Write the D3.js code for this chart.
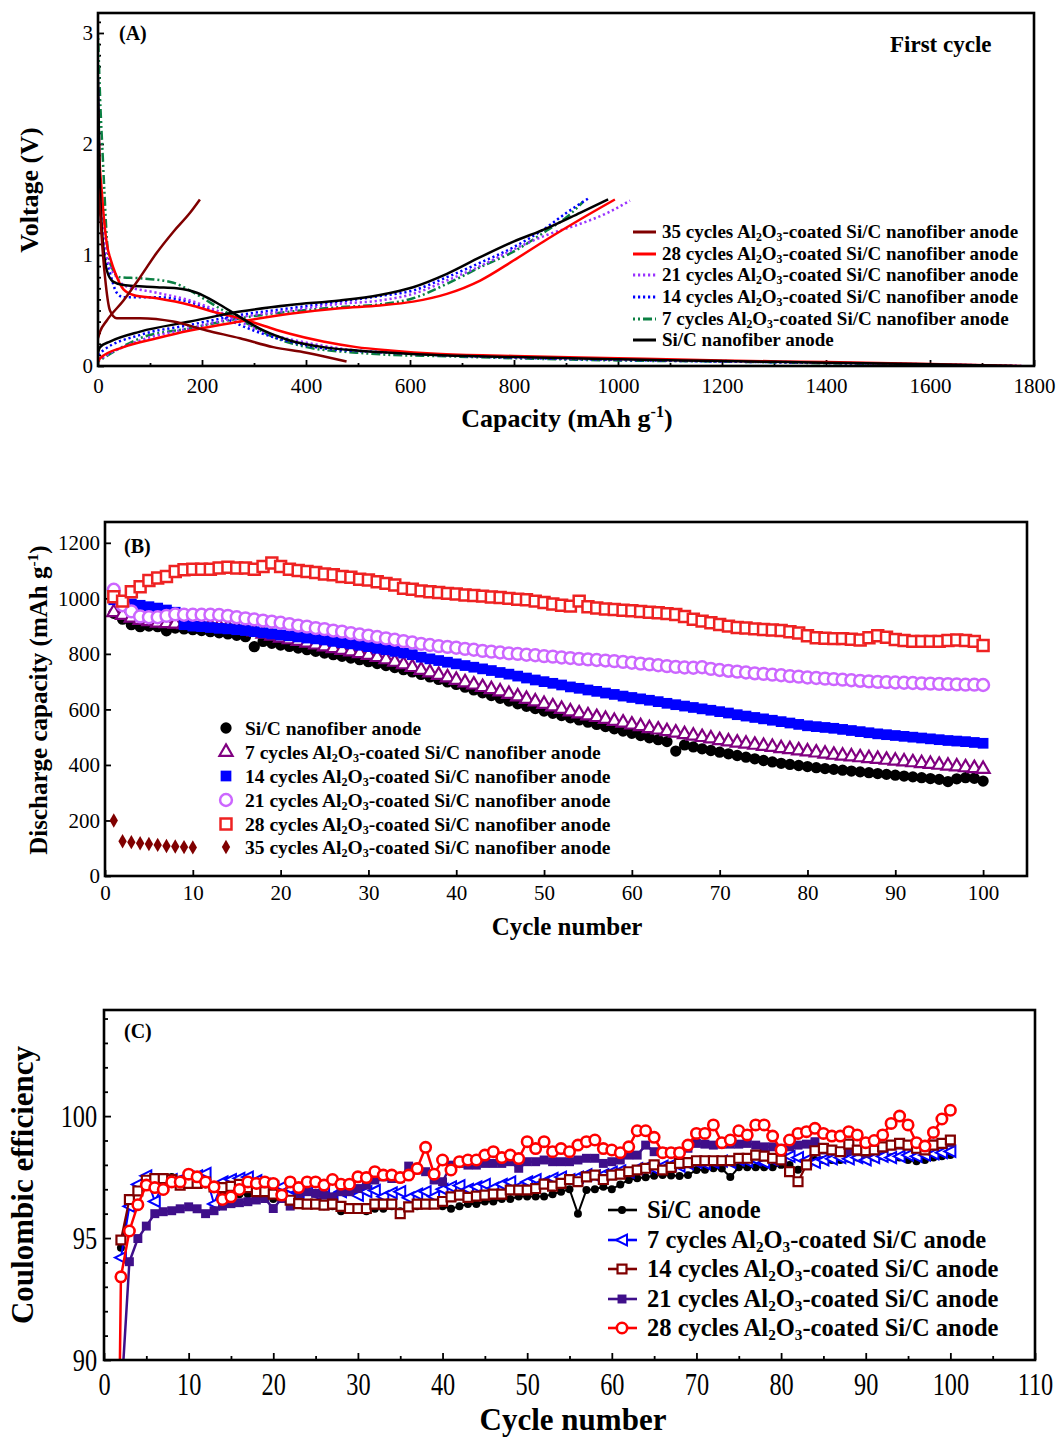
<!DOCTYPE html>
<html><head><meta charset="utf-8">
<script src="https://cdn.jsdelivr.net/npm/d3@7/dist/d3.min.js"></script>
<style>
body{margin:0;background:#fff;}
svg{display:block;font-family:"Liberation Serif","Times New Roman",serif;}
</style></head><body>
<svg id="c" width="1063" height="1441"></svg>
<script>
// ---------------- DATA ----------------
// Panel A: first-cycle voltage profiles [capacity mAh/g, voltage V]
const labelsA = ["35 cycles","28 cycles","21 cycles","14 cycles","7 cycles","Si/C"];
const dis35 = [[0,1.6],[4,1.4],[8,1.1],[13.5,0.80],[23,0.50],[36,0.43],[81,0.43],[145,0.40],[209,0.32],[273,0.25],[337,0.17],[401,0.12],[478,0.04]];
const chg35 = [[0,0.25],[4,0.31],[17,0.41],[49,0.59],[81,0.80],[113,1.02],[145,1.21],[177,1.38],[196,1.50]];
const dis28 = [[0,2.3],[3,1.85],[7,1.59],[12,1.3],[17,1.1],[25,0.95],[33,0.84],[49,0.69],[68,0.64],[113,0.61],[177,0.55],[228,0.48],[273,0.43],[320,0.36],[369,0.29],[433,0.22],[497,0.17],[562,0.14],[650,0.11],[800,0.09],[1000,0.07],[1200,0.05],[1400,0.035],[1600,0.018],[1775,0.0]];
const chg28 = [[0,0.04],[4,0.07],[49,0.17],[113,0.25],[177,0.32],[273,0.40],[369,0.47],[465,0.52],[542,0.545],[606,0.58],[671,0.65],[735,0.77],[799,0.95],[863,1.14],[927,1.32],[994,1.50]];
const dis21 = [[0,2.6],[4,1.6],[10,1.2],[17,0.98],[36,0.80],[49,0.73],[113,0.66],[177,0.59],[228,0.50],[273,0.40],[337,0.28],[401,0.21],[497,0.14],[562,0.12],[650,0.10],[800,0.08],[1000,0.06],[1200,0.045],[1400,0.03],[1600,0.015],[1780,0.0]];
const chg21 = [[0,0.05],[10,0.08],[81,0.23],[177,0.34],[273,0.44],[369,0.50],[465,0.56],[542,0.59],[606,0.65],[671,0.77],[735,0.90],[799,1.05],[863,1.18],[927,1.28],[980,1.38],[1023,1.49]];
const dis14 = [[0,2.5],[4,1.5],[10,1.1],[23,0.84],[36,0.66],[49,0.62],[113,0.62],[164,0.59],[209,0.52],[254,0.41],[305,0.31],[369,0.22],[433,0.16],[562,0.12],[650,0.10],[800,0.075],[1000,0.055],[1200,0.04],[1400,0.028],[1600,0.013],[1770,0.0]];
const chg14 = [[0,0.10],[10,0.14],[81,0.28],[177,0.37],[273,0.46],[369,0.52],[465,0.58],[542,0.63],[606,0.68],[671,0.80],[735,0.93],[799,1.07],[863,1.25],[901,1.38],[943,1.51]];
const dis7 = [[0,3.0],[5,2.3],[8,2.0],[12,1.6],[17,1.15],[23,0.93],[42,0.80],[81,0.79],[145,0.75],[177,0.68],[209,0.59],[241,0.50],[292,0.37],[343,0.25],[401,0.17],[497,0.12],[562,0.10],[650,0.09],[800,0.07],[1000,0.05],[1200,0.04],[1400,0.025],[1600,0.012],[1750,0.0]];
const chg7 = [[0,0.04],[10,0.07],[81,0.25],[177,0.34],[273,0.43],[369,0.49],[465,0.53],[542,0.555],[606,0.61],[671,0.74],[735,0.89],[799,1.03],[863,1.22],[901,1.34],[933,1.48]];
const disSiC = [[0,2.6],[3,1.75],[6,1.35],[10,1.08],[17,0.86],[29,0.76],[49,0.73],[113,0.71],[151,0.70],[190,0.66],[228,0.57],[273,0.44],[318,0.32],[369,0.23],[433,0.17],[497,0.14],[562,0.12],[650,0.10],[800,0.08],[1000,0.06],[1200,0.045],[1400,0.03],[1600,0.015],[1760,0.0]];
const chgSiC = [[0,0.12],[4,0.17],[23,0.22],[81,0.31],[177,0.40],[273,0.49],[369,0.55],[465,0.59],[542,0.64],[606,0.71],[671,0.83],[735,0.98],[799,1.12],[863,1.24],[927,1.38],[981,1.50]];
const capTicksA = [0,200,400,600,800,1000,1200,1400,1600,1800];
const voltTicksA = [0,1,2,3];

// Panel B: discharge capacity vs cycle (cycles 1..100)
const capB_SiC = [946,925,905,898,900,898,883,893,890,887, 884,880,876,872,867,862,826,845,838,832, 827,821,815,809,803,797,791,785,779,772, 765,758,751,743,735,726,717,708,699,690, 680,670,660,650,640,630,620,611,603,594, 586,578,570,562,554,546,538,530,522,514, 506,498,491,484,450,472,465,458,452,446, 440,434,428,422,416,411,406,402,398,394, 390,387,384,381,378,375,372,369,366,363, 360,357,354,351,348,340,350,354,352,342];
const capB_7 = [950,940,930,922,917,912,910,908,906,905, 904,902,900,897,893,888,880,872,865,858, 852,846,840,833,826,820,814,808,802,796, 788,780,771,762,752,742,733,724,715,706, 697,689,680,672,664,655,646,637,628,619, 610,601,592,585,578,572,565,558,552,545, 539,532,527,521,516,510,505,500,495,489, 484,480,476,472,468,464,460,456,452,448, 444,440,436,433,430,427,424,421,418,415, 412,409,406,403,400,397,394,391,388,385];
const capB_14 = [995,985,980,975,970,965,958,950,905,900, 898,895,892,890,887,884,880,876,872,868, 865,861,857,854,850,845,840,836,831,826, 820,815,809,803,797,788,782,776,770,764, 758,752,746,740,733,727,720,713,706,700, 694,688,681,676,670,665,659,654,648,643, 638,633,628,622,617,612,607,602,597,592, 587,581,576,571,566,561,556,551,546,541, 538,535,532,528,524,520,516,512,509,506, 503,500,497,494,491,488,486,484,481,478];
const capB_21 = [1031,975,953,935,932,932,937,942,941,941, 941,941,940,937,932,928,924,920,916,912, 907,902,898,893,889,884,880,875,870,866, 861,856,851,846,841,836,832,828,825,822, 818,815,811,808,805,802,800,797,795,792, 790,787,785,782,780,778,776,774,771,768, 765,762,759,756,753,751,750,752,746,742, 739,736,733,730,728,725,723,720,718,715, 713,711,709,707,705,703,701,699,698,697, 696,695,694,693,692,691,690,689,689,688];
const capB_28 = [1006,990,1024,1042,1064,1073,1079,1097,1103,1105, 1105,1105,1109,1112,1109,1109,1105,1115,1127,1115, 1105,1100,1097,1093,1088,1085,1079,1076,1069,1066, 1060,1054,1048,1036,1033,1027,1024,1021,1018,1016, 1012,1010,1008,1005,1003,1000,997,995,990,985, 980,975,972,990,970,965,962,960,957,955, 953,950,948,945,942,935,925,918,912,906, 900,895,893,890,888,886,884,880,875,865, 858,856,855,855,853,850,858,865,860,852, 848,845,845,845,845,848,850,848,845,830];
const capB_35 = [200,125,122,118,115,112,108,106,104,103];
const cycleTicksB = [0,10,20,30,40,50,60,70,80,90,100];
const capTicksB = [0,200,400,600,800,1000,1200];

// Panel C: coulombic efficiency (%) vs cycle (cycles 1..100, null = no point)
const ceC_SiC = [null,94.6,96.4,97.0,97.3,97.4,97.5,97.5,97.4,97.3, 97.3,97.2,97.0,96.9,96.9,96.8,96.8,96.7,96.7,96.6, 96.6,96.5,96.5,96.4,96.4,96.3,96.3,96.1,96.2,96.2, 96.1,96.2,96.2,96.3,96.1,96.3,96.3,96.4,96.4,96.3, 96.2,96.3,96.4,96.4,96.5,96.5,96.6,96.6,96.7,96.7, 96.7,96.7,96.8,96.9,97.0,96.0,96.97,97.0,97.1,97.0, 97.2,97.38,97.45,97.49,97.55,97.58,97.56,97.54,97.58,97.79, 97.8,97.86,97.85,97.5,97.9,97.9,97.9,97.9,97.9,98.0, 98.0,97.8,98.1,98.2,98.2,98.2,98.2,98.25,98.3,98.3, 98.3,98.35,98.31,98.3,98.2,98.15,98.2,98.3,98.35,98.4];
const ceC_7 = [null,94.2,96.3,97.2,97.55,96.5,97.2,97.4,97.4,97.5, 97.55,97.65,96.4,97.3,97.4,97.45,97.5,97.35,97.2,97.1, 97.1,97.0,96.9,97.0,96.8,96.95,96.7,96.9,96.95,96.75, 96.9,96.95,96.7,96.85,96.9,96.65,96.8,96.9,96.7,97.0, 97.1,97.15,97.0,97.1,97.2,97.05,97.2,97.3,97.1,97.3, 97.4,97.3,97.45,97.5,97.4,97.5,97.6,97.55,97.6,97.7, 97.75,97.7,97.85,97.9,97.85,97.95,98.0,97.95,98.05,98.1, 98.05,98.1,98.15,98.1,98.2,98.15,98.2,98.1,98.2,98.3, 98.35,98.3,98.2,98.1,98.2,98.25,98.3,98.25,98.3,98.2, 98.3,98.35,98.3,98.35,98.4,98.35,98.4,98.45,98.5,98.55];
const ceC_14 = [null,94.92,96.58,96.93,97.37,97.44,97.44,97.4,97.17,97.24, 97.24,97.3,97.1,97.07,97.12,97.2,97.07,96.9,96.9,96.8, 96.76,96.55,96.41,96.39,96.39,96.35,96.39,96.3,96.21,96.21, 96.21,96.39,96.39,96.39,96.0,96.28,96.39,96.39,96.39,96.5, 96.69,96.76,96.67,96.72,96.76,96.80,96.80,96.97,96.97,96.97, 97.03,97.21,97.13,97.24,97.40,97.31,97.51,97.58,97.40,97.58, 97.62,97.72,97.79,97.86,98.00,97.79,97.90,98.06,98.09,98.17, 98.17,98.17,98.17,98.17,98.27,98.27,98.40,98.36,98.27,98.20, 97.72,97.31,98.00,98.58,98.68,98.61,98.54,98.85,98.61,98.58, 98.61,98.74,98.81,98.88,98.81,98.68,98.61,98.81,98.88,99.02];
const ceC_21 = [60,88.3,94.03,94.98,95.49,96.0,96.08,96.12,96.2,96.28, 96.2,96.0,96.12,96.31,96.41,96.45,96.49,96.56,96.62,96.21, 96.62,96.31,96.69,96.9,96.83,96.76,96.69,96.9,96.9,97.03, 97.17,97.38,97.51,97.44,97.44,97.95,97.79,97.72,97.38,97.31, 97.99,98.06,97.99,97.99,98.06,98.06,98.06,98.13,97.86,98.13, 98.13,98.20,98.13,98.13,98.13,98.20,98.27,98.27,98.06,98.13, 98.20,98.40,98.40,98.81,98.54,98.54,98.47,98.54,98.68,98.88, 98.85,98.81,98.85,98.85,98.85,98.88,98.81,98.74,98.74,98.68, 98.74,98.81,98.85,98.95,98.61,98.58,98.54,98.58,98.54,98.47, 98.61,98.68,98.81,98.81,98.81,98.85,98.74,98.85,98.88,98.91];
const ceC_28 = [65,93.41,95.29,96.37,97.17,97.07,96.99,97.30,97.30,97.62, 97.51,97.30,97.10,96.58,96.69,96.99,97.30,97.24,97.30,97.24, 96.76,97.30,97.07,97.30,97.30,97.17,97.40,97.21,97.21,97.51, 97.48,97.72,97.58,97.58,97.48,97.58,97.85,98.72,97.62,98.20, 97.79,98.13,98.20,98.20,98.40,98.54,98.30,98.40,98.26,98.95, 98.67,98.95,98.54,98.67,98.54,98.81,98.95,99.02,98.67,98.61, 98.50,98.74,99.40,99.40,99.13,98.50,98.50,98.50,98.81,99.29, 99.29,99.64,98.91,99.02,99.40,99.23,99.64,99.64,99.18,98.61, 99.02,99.29,99.36,99.50,99.29,99.18,99.18,99.36,99.23,98.91, 99.00,99.23,99.70,100.0,99.64,98.91,98.77,99.33,99.88,100.24];
const cycleTicksC = [0,10,20,30,40,50,60,70,80,90,100,110];
const ceTicksC = [90,95,100];

// ---------------- DRAWING ----------------
const svg = d3.select("#c");
const FS = "Liberation Serif";
const plain = d => String(d);

function rich(g, x, y, parts, fs, bold) {
  const t = g.append("text").attr("x", x).attr("y", y).attr("font-size", fs)
    .attr("font-weight", bold ? "bold" : "normal").attr("fill", "#000");
  let shift = 0;
  parts.forEach(([s, k]) => {
    const target = k === "sub" ? fs * 0.17 : k === "sup" ? -fs * 0.38 : 0;
    const ts = t.append("tspan").attr("dy", target - shift).text(s);
    if (k !== "n") ts.attr("font-size", fs * 0.62);
    shift = target;
  });
  return t;
}
const coated = (pre, post) => [[pre + " cycles Al", "n"], ["2", "sub"], ["O", "n"], ["3", "sub"], ["-coated " + post, "n"]];

function styleAxis(g, fs) {
  g.attr("font-family", FS).attr("font-size", fs);
  g.select(".domain").remove();
  g.selectAll(".tick line").attr("stroke", "#000").attr("stroke-width", 1.8);
  g.selectAll("text").attr("fill", "#000");
}
function frame(x0, y0, x1, y1) {
  svg.append("rect").attr("x", x0).attr("y", y0).attr("width", x1 - x0).attr("height", y1 - y0)
    .attr("fill", "none").attr("stroke", "#000").attr("stroke-width", 2.6);
}
function clip(id, x0, y0, x1, y1) {
  svg.append("clipPath").attr("id", id).append("rect").attr("x", x0).attr("y", y0).attr("width", x1 - x0).attr("height", y1 - y0);
}

// ===== Panel A =====
const A = {l: 98, r: 1034, t: 13, b: 366};
const xA = d3.scaleLinear().domain([0, 1800]).range([A.l, A.r]);
const yA = d3.scaleLinear().domain([0, 3.18]).range([A.b, A.t]);
clip("clipA", A.l, A.t, A.r, A.b);

svg.append("g").attr("transform", `translate(0,${A.b})`)
  .call(d3.axisBottom(xA).tickValues(d3.range(100, 1800, 200)).tickSize(-3).tickFormat(""))
  .call(g => styleAxis(g, 21));
svg.append("g").attr("transform", `translate(0,${A.b})`)
  .call(d3.axisBottom(xA).tickValues(capTicksA).tickSize(-6).tickPadding(12).tickFormat(plain))
  .call(g => styleAxis(g, 21));
const vMinor = d3.range(1, 32).map(i => i / 10).filter(v => Math.abs(v - Math.round(v)) > 1e-6);
svg.append("g").attr("transform", `translate(${A.l},0)`)
  .call(d3.axisLeft(yA).tickValues(vMinor).tickSize(-3).tickFormat(""))
  .call(g => styleAxis(g, 21));
svg.append("g").attr("transform", `translate(${A.l},0)`)
  .call(d3.axisLeft(yA).tickValues(voltTicksA).tickSize(-6).tickPadding(5).tickFormat(plain))
  .call(g => styleAxis(g, 21));

const seriesA = [
  {dis: dis7, chg: chg7, label: coated("7", "Si/C nanofiber anode"), color: "#0b8043", dash: "2,3,2,3,9,3", order: 4},
  {dis: dis14, chg: chg14, label: coated("14", "Si/C nanofiber anode"), color: "#0000ff", dash: "2.2,2.8", order: 3},
  {dis: dis21, chg: chg21, label: coated("21", "Si/C nanofiber anode"), color: "#9933ff", dash: "2.2,2.8", order: 2},
  {dis: dis28, chg: chg28, label: coated("28", "Si/C nanofiber anode"), color: "#ff0000", dash: null, order: 1},
  {dis: disSiC, chg: chgSiC, label: [["Si/C nanofiber anode", "n"]], color: "#000000", dash: null, order: 5},
  {dis: dis35, chg: chg35, label: coated("35", "Si/C nanofiber anode"), color: "#800000", dash: null, order: 0},
];
const lineA = d3.line().x(d => xA(d[0])).y(d => yA(d[1])).curve(d3.curveMonotoneX);
const gA = svg.append("g").attr("clip-path", "url(#clipA)");
seriesA.forEach(s => {
  [s.dis, s.chg].forEach(arr => {
    gA.append("path").attr("d", lineA(arr)).attr("fill", "none").attr("stroke", s.color)
      .attr("stroke-width", 2.5).attr("stroke-dasharray", s.dash);
  });
});
frame(A.l, A.t, A.r, A.b);
// legend A
const legA = svg.append("g");
const rowsA = [232, 254, 275, 297, 319, 340];
seriesA.slice().sort((a, b) => a.order - b.order).forEach((s, i) => {
  const y = rowsA[i];
  legA.append("line").attr("x1", 633).attr("x2", 656).attr("y1", y).attr("y2", y)
    .attr("stroke", s.color).attr("stroke-width", 3).attr("stroke-dasharray", s.dash);
  rich(legA, 662, y + 6, s.label, 19, true);
});
svg.append("text").attr("x", 119).attr("y", 40).attr("font-size", 20).attr("font-weight", "bold").text("(A)");
svg.append("text").attr("x", 890).attr("y", 52).attr("font-size", 23).attr("font-weight", "bold").text("First cycle");
rich(svg, 567, 427, [["Capacity (mAh g", "n"], ["-1", "sup"], [")", "n"]], 26, true).attr("text-anchor", "middle");
svg.append("text").attr("transform", "translate(38,190) rotate(-90)").attr("text-anchor", "middle")
  .attr("font-size", 26).attr("font-weight", "bold").text("Voltage (V)");

// ===== Panel B =====
const B = {l: 105, r: 1027, t: 522, b: 876};
const xB = d3.scaleLinear().domain([0, 105]).range([B.l, B.r]);
const yB = d3.scaleLinear().domain([0, 1275]).range([B.b, B.t]);
clip("clipB", B.l, B.t, B.r, B.b);
svg.append("g").attr("transform", `translate(0,${B.b})`)
  .call(d3.axisBottom(xB).tickValues(cycleTicksB).tickSize(-6).tickPadding(9).tickFormat(plain))
  .call(g => styleAxis(g, 21));
svg.append("g").attr("transform", `translate(${B.l},0)`)
  .call(d3.axisLeft(yB).tickValues(capTicksB).tickSize(-6).tickPadding(5).tickFormat(plain))
  .call(g => styleAxis(g, 21));

const symB = {
  circle: d3.symbol().type(d3.symbolCircle).size(100)(),
  tri: d3.symbol().type(d3.symbolTriangle).size(75)(),
  square: d3.symbol().type(d3.symbolSquare).size(115)(),
  ocircle: d3.symbol().type(d3.symbolCircle).size(110)(),
  osquare: d3.symbol().type(d3.symbolSquare).size(120)(),
  diamond: d3.symbol().type(d3.symbolDiamond).size(60)(),
};
const seriesB = [
  {vals: capB_SiC, sym: symB.circle, fill: "#000", stroke: "none", sw: 0, label: [["Si/C nanofiber anode", "n"]]},
  {vals: capB_7, sym: symB.tri, fill: "#fff", stroke: "#800080", sw: 2.2, label: coated("7", "Si/C nanofiber anode")},
  {vals: capB_14, sym: symB.square, fill: "#0000ff", stroke: "none", sw: 0, label: coated("14", "Si/C nanofiber anode")},
  {vals: capB_21, sym: symB.ocircle, fill: "#fff", stroke: "#cc66ff", sw: 2.5, label: coated("21", "Si/C nanofiber anode")},
  {vals: capB_28, sym: symB.osquare, fill: "#fff", stroke: "#ee2222", sw: 2.5, label: coated("28", "Si/C nanofiber anode")},
  {vals: capB_35, sym: symB.diamond, fill: "#800000", stroke: "none", sw: 0, label: coated("35", "Si/C nanofiber anode")},
];
const gB = svg.append("g").attr("clip-path", "url(#clipB)");
seriesB.forEach(s => {
  gB.append("g").selectAll("path").data(s.vals).join("path")
    .attr("d", s.sym).attr("transform", (d, i) => `translate(${xB(i + 1)},${yB(d)})`)
    .attr("fill", s.fill).attr("stroke", s.stroke).attr("stroke-width", s.sw);
});
frame(B.l, B.t, B.r, B.b);
const legB = svg.append("g");
const rowsB = [728, 752, 776, 800, 824, 847];
seriesB.forEach((s, i) => {
  const y = rowsB[i];
  legB.append("path").attr("d", s.sym).attr("transform", `translate(226,${y})`)
    .attr("fill", s.fill).attr("stroke", s.stroke).attr("stroke-width", s.sw);
  rich(legB, 245, y + 6.5, s.label, 19.5, true);
});
svg.append("text").attr("x", 124).attr("y", 553).attr("font-size", 20).attr("font-weight", "bold").text("(B)");
svg.append("text").attr("x", 567).attr("y", 935).attr("text-anchor", "middle").attr("font-size", 25).attr("font-weight", "bold").text("Cycle number");
rich(svg, 0, 0, [["Discharge capacity (mAh g", "n"], ["-1", "sup"], [")", "n"]], 25, true)
  .attr("text-anchor", "middle").attr("transform", "translate(47,700) rotate(-90)");

// ===== Panel C =====
const C = {l: 104, r: 1035, t: 1010, b: 1360};
const xC = d3.scaleLinear().domain([0, 110]).range([C.l, C.r]);
const yC = d3.scaleLinear().domain([90, 104.35]).range([C.b, C.t]);
clip("clipC", C.l, C.t, C.r, C.b);
const condense = g => g.selectAll("text").attr("transform", "scale(0.76,1)");
svg.append("g").attr("transform", `translate(0,${C.b})`)
  .call(d3.axisBottom(xC).tickValues(d3.range(5, 110, 10)).tickSize(-4).tickFormat(""))
  .call(g => styleAxis(g, 32));
svg.append("g").attr("transform", `translate(0,${C.b})`)
  .call(d3.axisBottom(xC).tickValues(cycleTicksC).tickSize(-7).tickPadding(12).tickFormat(plain))
  .call(g => styleAxis(g, 32)).call(condense);
svg.append("g").attr("transform", `translate(${C.l},0)`)
  .call(d3.axisLeft(yC).tickValues(d3.range(91, 105).filter(v => v % 5 !== 0)).tickSize(-4).tickFormat(""))
  .call(g => styleAxis(g, 32));
svg.append("g").attr("transform", `translate(${C.l},0)`)
  .call(d3.axisLeft(yC).tickValues(ceTicksC).tickSize(-7).tickPadding(9).tickFormat(plain))
  .call(g => styleAxis(g, 32)).call(condense);

const symC = {
  dot: d3.symbol().type(d3.symbolCircle).size(50)(),
  ltri: "M-6,0L5,-5.5L5,5.5Z",
  osq: d3.symbol().type(d3.symbolSquare).size(80)(),
  sq: d3.symbol().type(d3.symbolSquare).size(80)(),
  ocirc: d3.symbol().type(d3.symbolCircle).size(85)(),
};
const seriesC = [
  {vals: ceC_SiC, color: "#000", lw: 2, sym: symC.dot, fill: "#000", sw: 0, label: [["Si/C anode", "n"]]},
  {vals: ceC_7, color: "#0000ff", lw: 2, sym: symC.ltri, fill: "#fff", sw: 2, label: coated("7", "Si/C anode")},
  {vals: ceC_14, color: "#800000", lw: 2.2, sym: symC.osq, fill: "#fff", sw: 2.2, label: coated("14", "Si/C anode")},
  {vals: ceC_21, color: "#3f0f8a", lw: 2.5, sym: symC.sq, fill: "#3f0f8a", sw: 0, label: coated("21", "Si/C anode")},
  {vals: ceC_28, color: "#ff0000", lw: 2.5, sym: symC.ocirc, fill: "#fff", sw: 2.6, label: coated("28", "Si/C anode")},
];
const drawOrderC = [0, 1, 3, 2, 4];
const gC = svg.append("g").attr("clip-path", "url(#clipC)");
const lineC = d3.line().defined(d => d != null).x((d, i) => xC(i + 1)).y(d => yC(d));
drawOrderC.forEach(k => {
  const s = seriesC[k];
  const g = gC.append("g");
  g.append("path").attr("d", lineC(s.vals)).attr("fill", "none").attr("stroke", s.color).attr("stroke-width", s.lw);
  g.selectAll("path.m").data(s.vals.map((v, i) => [i + 1, v]).filter(d => d[1] != null)).join("path").attr("class", "m")
    .attr("d", s.sym).attr("transform", d => `translate(${xC(d[0])},${yC(d[1])})`)
    .attr("fill", s.fill).attr("stroke", s.sw ? s.color : "none").attr("stroke-width", s.sw);
});
frame(C.l, C.t, C.r, C.b);
const legC = svg.append("g");
const rowsC = [1210, 1240, 1269, 1299, 1328];
seriesC.forEach((s, i) => {
  const y = rowsC[i];
  legC.append("line").attr("x1", 608).attr("x2", 637).attr("y1", y).attr("y2", y).attr("stroke", s.color).attr("stroke-width", 2.6);
  legC.append("path").attr("d", s.sym).attr("transform", `translate(622,${y})`)
    .attr("fill", s.fill).attr("stroke", s.sw ? s.color : "none").attr("stroke-width", s.sw);
  rich(legC, 647, y + 8, s.label, 24.5, true);
});
svg.append("text").attr("x", 124).attr("y", 1038).attr("font-size", 20).attr("font-weight", "bold").text("(C)");
svg.append("text").attr("x", 573).attr("y", 1430).attr("text-anchor", "middle").attr("font-size", 31).attr("font-weight", "bold").text("Cycle number");
svg.append("text").attr("transform", "translate(33,1185) rotate(-90)").attr("text-anchor", "middle")
  .attr("font-size", 31).attr("font-weight", "bold").text("Coulombic efficiency");
</script>
</body></html>
